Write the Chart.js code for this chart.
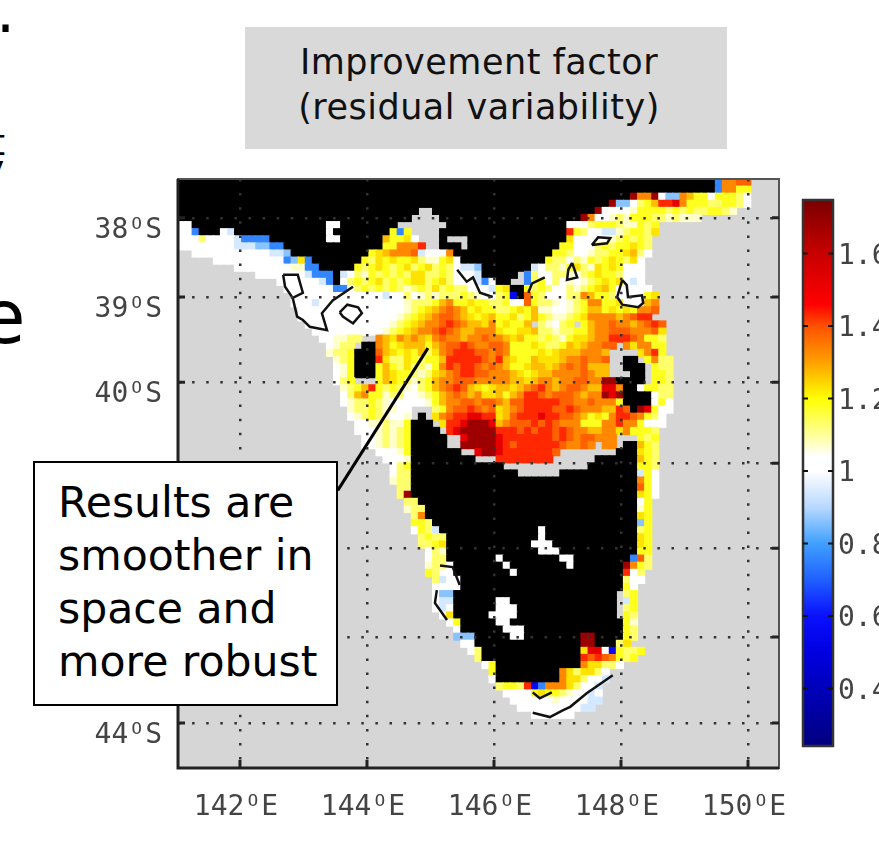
<!DOCTYPE html>
<html>
<head>
<meta charset="utf-8">
<title>Improvement factor</title>
<script src="https://cdn.jsdelivr.net/npm/chart.js@4"></script>
<style>
html, body { margin: 0; padding: 0; width: 879px; height: 846px; overflow: hidden; background: #fff; }
canvas { position: absolute; filter: blur(0.6px); }
#mapChart { left: 0; top: 0; }
#barChart { left: 795px; top: 170px; }
.title { position: absolute; left: 245px; top: 27px; width: 482px; height: 122px; background: #d9d9d9;
  font: 35px/45px "DejaVu Sans"; color: #111; text-align: center; box-sizing: border-box; padding: 13px 14px 0 0; letter-spacing: 0.5px; }
.note { position: absolute; left: 33px; top: 461px; width: 305px; height: 245px; background: #fff; border: 2px solid #000;
  box-sizing: border-box; font: 42.6px/53px "DejaVu Sans"; color: #000; padding: 13px 0 0 23px; white-space: nowrap; }
.cut { position: absolute; font-family: "DejaVu Sans"; color: #000; line-height: 1; }
</style>
</head>
<body>
<span class="cut" style="left:-4px;top:-19px;font-size:60px">.</span>
<span class="cut" style="left:-9px;top:125px;font-size:36px">t</span>
<span class="cut" style="left:-17px;top:151px;font-size:36px">y</span>
<span class="cut" style="left:-20px;top:280px;font-size:74px">e</span>
<canvas id="mapChart" width="879" height="846"></canvas>
<canvas id="barChart" width="130" height="606"></canvas>
<div class="title">Improvement factor<br>(residual variability)</div>
<div class="note">Results are<br>smoother in<br>space and<br>more robust</div>
<script>
// Axis ticks
const lonTicks = [142, 144, 146, 148, 150];
const latTicks = [-38.07, -39, -40, -40.95, -41.95, -42.99, -44];
const barTicks = [0.4, 0.6, 0.8, 1, 1.2, 1.4, 1.6];

// Colour scale
const cmapValues = [0.24, 0.5, 0.6, 0.7, 0.8, 0.9, 1.0, 1.04, 1.1, 1.2, 1.3, 1.4, 1.46, 1.6, 1.75];
const cmapColors = ["#00007f", "#0000e0", "#0a10ff", "#2060ff", "#40a0ff", "#b8d8ff", "#ffffff", "#ffffff", "#ffff99", "#ffff00", "#ffa000", "#ff5000", "#ff0000", "#c80000", "#7a0000"];

// Cell letters and the improvement factor they stand for
const cellCodes = "edcbawpqyYoOrRDK";
const cellValues = [0.55, 0.68, 0.76, 0.86, 0.94, 1.0, 1.07, 1.13, 1.18, 1.23, 1.27, 1.33, 1.38, 1.43, 1.52, 1.68];

// One entry per grid row, top to bottom. "a-b#" fills columns, "n:cells" starts at column n.
// # is land, . is no data
const cellRows = [
"0-75# 76:cOOrr",
"0-75# 76:cOOyy",
"0-63# 64:KOOKwbbOoyywyyyqw",
"0-60# 61:Kbbwqyo 68:RRDOyyyqqyyqw",
"0-58# 34:.. 59:Kwwwwpyyyyqyqyqqyyqp",
"0-56# 33:.... 57:KOwwpqpyyyqqpqppp",
"0:ww 2-54# 21:ww 31:....... 55:wwwqyyyqppyqy",
"0:wwc 3-5# 6:wa 8-54# 21:w 30:ycy 33:.... 55:RyqwwaapqyyqY",
"0:wwwqwwwwacccc 13-28# 21:ww 29:oyyYw 34:... 37-54# 38:... 55:Ywwwwwpqyqyq",
"0:wwwwwwwwaaabbcc 15-28# 29:yyOOOR 35:.. 37-53# 40:. 54:yywwwqyqyyYyq",
"2:wwwwwwwwwwwaab 16-26# 27:yYoOOOrawwwO 39-52# 53:yyqwwpqqyyYoqw",
"5:wwwwwwwwwwcbYc 19-25# 26:yqYyYyyYqppyYw 40-51# 52:yqqwqpyqyYyqYw",
"8:wwwwwwwwppcc 20-24# 25:yqyYyqyYqyYqyqwaab 43-49# 50:awqqpyYqpYyYywww",
"11:wwwwwwwaccc 22-22# 23:awqpyqyqyqYYqqyqwwwa 43-47# 48:. 49:cqwwqqpwqyYyyqwww",
"14:wwwwwwac 22-22# 23:wqyqyYqyqyYYqyYqwwwacw 45-46# 47:.. 49:cqywqwpwpqyYyYwaw",
"15:wwwwwwwccwqyqyqyqpqyqYqyqqwwwayY 47-48# 49:yqyqwwqpqyYoywwwww",
"16:wwwwwwwwwwwwwawwqwpqpqqqyqpwwqy 47:e 48-48# 49:ryqwwwqqOoyyqwwwwyY",
"16:wwwawwwwwwwwwwwwpqqqyoOyyYyyqqywwr 50:yqqpwpqyOOyyYwwwoO",
"17:wwwwwwwwwwwwwwwpqyYoOrOoyYyyqqyYy 50:oppwwpqyooyYyYyOOr",
"17:wwwwwwwwwwwwwwpqyYoOrrOoYyYoyyYqy 50:oyqppqyYOOOOoOrRR",
"18:wwwwwwwwwwwwpqyYoOOrRrOooYOyYyyo.qpwqy.yoOOrOOoOrRr",
"19:wwwwwwwwwwpqyYoOOrRrOooOOOYyyYYoqqpqqyyoOOrrrOOOrY",
"20:wwppqq..OoYOoOoYOrOOoOOrOOoYoyyqyqpyYYoOORRRrOyyq",
"21:wpqq.##OoyYoooyoOrrRrOOrrOyyyYyqqyoYoOOrr.OYOOyy",
"21:pqqy###roYyYyoqYOrRRRrrOrOyyyyYyYoooOOOo....YORy",
"22:pqy###RYqqYyqyyoRRRRRrORoYyyoYYYoOOrOOr..##.yOqq",
"22:wpy###yoyqYqqpyORrRRrOrOoyyYooYoOrOrooo..###.yqq",
"22:wpy###yoYyyqpqYoOrRRrrOOOoYyYooOOOOrOoo...##.yyq",
"22:wqy...yoYyqpqyoOOrrrOOOOOooYoOOoOOrrOOKK####.yyq",
"23:pqyoRyqyqpwqyoOrRroYyYooYoOrROoOrrOooDDO##wyyqq",
"23:wqoOyypqqwwpqyoOrOoOYYoyoORRrOrrrOoOOKDK####wqq",
"23:wpqqyqpwwwwwpyoOOrrOrrOorrRRRRRrrOOrOOOy####wyw",
"24:pqqyqppww...qyOrrRrOrYoOrRRRRrrRrOOOooRr#KDyww",
"24:wpqyqpwwp.#.YOrRRDDRRYorRRRDRRrrOoyYyORRrOyqw",
"25:wwppqppy###.YRRDKKKDoOrrrRrRrOOOyyyOOROOywww",
"25:wwwpqpqy####.RDKKKKKRRRrRrRRrRrOOooOOYOyyyq",
"26:wwpqpqy#####..DKKKKDRRRRRRRrRrOrrOOO...yqy",
"26:wwpqpqy#####..KKKKKDRrRRRRRRrOOrO.OO.##oyq",
"28:wwwpy#######..DKKDRRRRRRRr........###Yyq",
"29:wwwp#########...RRRRRRRR......######oyq",
"30:wqy#############............#######yyq",
"30:wqq###############......###########ayw",
"30:pqq 33-64# 65:Oyw",
"31:qq 33-64# 65:ryw",
"31:qK 33-64# 65:Yyw",
"32:qq 34-64# 65:wy",
"32:pqq 35-64# 65:py",
"33:qO 35-64# 65:Yy",
"33:yyq 36-64# 65:by",
"33:wyqa 37-64# 51:w 65:qy",
"34:qyqq 38-64# 51:w 65:Yy",
"34:qqyY 38-64# 50:www 65:Yy",
"35:wqp 38-64# 51:www 65:yy",
"35:wqq 38-63# 45:w 54:ww 64:crq",
"35:pqqw 39-62# 46:w 55:w 63:KOyq",
"35:yqww 39-62# 47:w 63:Rwq",
"36:qaww 40-62# 63:qww",
"36:wwww 40-62# 63:yw",
"36:wbb 39-61# 63:qy",
"36:waa 39-61# 45:ww 63:ay",
"36:waw 39-61# 45:www 63:qy",
"37:wY 39-61# 44:wwww 63:yq",
"38:wy 40-62# 45:ww 63:yp",
"39:w 40-62# 46:www 63:yq",
"39:bbb 42-62# 47:ww 57:KK 63:yq",
"40:ww 42-56# 57:KK 59-61# 62:qY",
"41:wq 43-56# 57:YDDweyqqy",
"42:q 43-56# 57:RrRrOyqy",
"43:wy 45-56# 57:OYYqqw",
"44:y 45-53# 54:OYqYYqw",
"44:w 45-53# 54:OYYqwwa",
"45:qyyqRecOOOYqwwa",
"46:wwwwyYyyqpwwaw",
"47:wwwwwwpwwwwaa",
"48:wwwwwwwwwaa",
"50:wwwwww"
];
const gridCols = 85;
const gridRows = 83;

// Map extent
const lonMin = 141.024, lonMax = 150.488;
const latMin = -44.528, latMax = -37.615;

// Thin coast contours as [lon, lat]
const contourKing = [[142.68,-38.74],[142.91,-38.74],[142.99,-38.95],[142.83,-39.01],[142.90,-39.23],[142.99,-39.27],[143.10,-39.35],[143.37,-39.39],[143.29,-39.19],[143.46,-39.04],[143.78,-38.88]];
const contourKing2 = [[142.68,-38.74],[142.71,-38.88],[142.83,-39.01]];
const contourLake = [[143.57,-39.18],[143.69,-39.09],[143.86,-39.12],[143.92,-39.19],[143.78,-39.31],[143.62,-39.23],[143.57,-39.18]];
const contourEast = [[148.02,-38.80],[148.09,-38.86],[148.11,-39.00],[148.33,-38.98],[148.35,-39.07],[148.27,-39.12],[148.02,-39.09],[147.94,-39.00],[148.02,-38.80]];
const contourSmall = [[147.23,-38.60],[147.31,-38.77],[147.15,-38.80],[147.17,-38.68],[147.23,-38.60]];
const contourOval = [[147.54,-38.39],[147.64,-38.30],[147.83,-38.31],[147.78,-38.37],[147.54,-38.39]];
const contourCoast = [[145.42,-38.68],[145.57,-38.82],[145.67,-38.77],[145.78,-38.95],[145.98,-39.00]];
const contourBay = [[146.54,-38.95],[146.60,-38.84],[146.80,-38.77]];
const contourWest = [[145.10,-42.44],[145.07,-42.59],[145.26,-42.79]];
const contourWest2 = [[145.15,-42.15],[145.35,-42.17],[145.46,-42.38]];
const contourSouth = [[146.61,-43.88],[146.88,-43.93],[147.09,-43.85],[147.20,-43.81],[147.46,-43.65],[147.87,-43.44]];
const contourSouth2 = [[146.61,-43.64],[146.72,-43.71],[146.91,-43.64]];
const contours = [contourKing, contourKing2, contourLake, contourEast, contourSmall, contourOval, contourCoast, contourBay, contourWest, contourWest2, contourSouth, contourSouth2];

// Leader from the note box to the map
const leader = [[143.54, -41.27], [144.96, -39.60]];

function hexToRgb(h) {
    return [1, 3, 5].map(i => parseInt(h.substr(i, 2), 16));
}

function colorFor(v) {
    let i = 0;
    while (i < cmapValues.length - 2 && v > cmapValues[i + 1]) i++;
    const t = Math.min(1, Math.max(0, (v - cmapValues[i]) / (cmapValues[i + 1] - cmapValues[i])));
    const a = hexToRgb(cmapColors[i]), b = hexToRgb(cmapColors[i + 1]);
    return `rgb(${a.map((c, k) => Math.round(c + (b[k] - c) * t)).join(",")})`;
}

// Turn the rows into points on the map scales
function buildCells() {
    const cells = [];
    const dLon = (lonMax - lonMin) / gridCols, dLat = (latMax - latMin) / gridRows;
    cellRows.forEach((row, r) => {
        const line = {};
        row.split(" ").forEach(tok => {
            const fill = tok.match(/^(\d+)-(\d+)(.)$/);
            if (fill) {
                for (let c = +fill[1]; c <= +fill[2]; c++) line[c] = fill[3];
            } else {
                const at = tok.indexOf(":"), start = +tok.slice(0, at);
                [...tok.slice(at + 1)].forEach((ch, k) => { line[start + k] = ch; });
            }
        });
        Object.keys(line).forEach(c => {
            if (line[c] === ".") return;
            const k = cellCodes.indexOf(line[c]);
            cells.push({
                x: lonMin + (+c + 0.5) * dLon,
                y: latMax - (r + 0.5) * dLat,
                v: k < 0 ? null : cellValues[k]
            });
        });
    });
    return cells;
}

const mapFrame = {
    id: "mapFrame",
    beforeDraw(chart) {
        const { ctx, chartArea: a } = chart;
        ctx.fillStyle = "#d6d6d6";
        ctx.fillRect(a.left, a.top, a.width, a.height);
    },
    afterDraw(chart) {
        const { ctx, chartArea: a, scales } = chart;
        ctx.save();
        ctx.strokeStyle = "#555";
        ctx.lineWidth = 2;
        ctx.strokeRect(a.left, a.top, a.width, a.height);
        ctx.strokeStyle = "#222";
        ctx.lineWidth = 3;
        ctx.beginPath();
        ctx.moveTo(a.left, a.top);
        ctx.lineTo(a.left, a.bottom);
        ctx.lineTo(a.right, a.bottom);
        latTicks.forEach(v => {
            const y = scales.y.getPixelForValue(v);
            ctx.moveTo(a.left, y); ctx.lineTo(a.left + 7, y);
            ctx.moveTo(a.right, y); ctx.lineTo(a.right - 7, y);
        });
        lonTicks.forEach(v => {
            const x = scales.x.getPixelForValue(v);
            ctx.moveTo(x, a.bottom); ctx.lineTo(x, a.bottom - 8);
        });
        ctx.stroke();
        ctx.restore();
    }
};

const barFrame = {
    id: "barFrame",
    afterDraw(chart) {
        const { ctx, chartArea: a, scales } = chart;
        ctx.save();
        ctx.strokeStyle = "#333";
        ctx.lineWidth = 2.5;
        ctx.strokeRect(a.left, a.top, a.width, a.height);
        ctx.strokeStyle = "#111";
        ctx.lineWidth = 2;
        ctx.beginPath();
        barTicks.forEach(v => {
            const y = scales.y.getPixelForValue(v);
            ctx.moveTo(a.left, y); ctx.lineTo(a.left + 5, y);
            ctx.moveTo(a.right, y); ctx.lineTo(a.right - 5, y);
        });
        ctx.stroke();
        ctx.restore();
    }
};

const tickFont = { family: "DejaVu Sans Mono", size: 28 };
const tickColor = "#444";
const dots = { display: false, dash: [2.5, 11.6] };

const lineDatasets = contours.map(c => ({
    type: "scatter",
    data: c.map(p => ({ x: p[0], y: p[1] })),
    showLine: true,
    borderColor: "#111",
    borderWidth: 2.5,
    pointRadius: 0,
    order: 1
}));

new Chart(document.getElementById("mapChart"), {
    type: "scatter",
    data: {
        datasets: [
            {
                data: buildCells(),
                pointStyle: "rect",
                pointRadius: ctx => ctx.chart.chartArea ? ctx.chart.chartArea.height / gridRows * 1.15 / Math.SQRT2 : 5,
                pointBorderWidth: 0,
                pointBackgroundColor: ctx => ctx.raw && ctx.raw.v !== null ? colorFor(ctx.raw.v) : "#000",
                order: 2
            },
            ...lineDatasets,
            {
                data: leader.map(p => ({ x: p[0], y: p[1] })),
                showLine: true,
                borderColor: "#000",
                borderWidth: 3,
                pointRadius: 0,
                order: 0
            }
        ]
    },
    options: {
        responsive: false,
        animation: false,
        events: [],
        layout: { padding: { top: 179, right: 100, left: 0, bottom: 0 } },
        plugins: { legend: { display: false }, tooltip: { enabled: false } },
        scales: {
            x: {
                type: "linear", min: lonMin, max: lonMax,
                afterBuildTicks: s => { s.ticks = lonTicks.map(v => ({ value: v })); },
                afterFit: s => { s.height = 78; },
                grid: { color: "#333", lineWidth: 2.5, drawTicks: false, z: 1 },
                border: dots,
                ticks: {
                    font: tickFont, color: tickColor, padding: 23, labelOffset: -4, maxRotation: 0, autoSkip: false,
                    callback: v => `${v}\u1D3CE`
                }
            },
            y: {
                type: "linear", min: latMin, max: latMax,
                afterBuildTicks: s => { s.ticks = latTicks.map(v => ({ value: v })); },
                afterFit: s => { s.width = 178; },
                grid: { color: "#333", lineWidth: 2.5, drawTicks: false, z: 1 },
                border: dots,
                ticks: {
                    font: tickFont, color: tickColor, padding: 16, labelOffset: 13, autoSkip: false,
                    callback: v => `${Math.round(-v)}\u1D3CS`
                }
            }
        }
    },
    plugins: [mapFrame]
});

// Colour bar
const barLow = 0.241, barHigh = 1.7476;
new Chart(document.getElementById("barChart"), {
    type: "bar",
    data: {
        labels: ["factor"],
        datasets: [{
            data: [[barLow, barHigh]],
            barPercentage: 1,
            categoryPercentage: 1,
            backgroundColor: ctx => {
                const { chart } = ctx;
                if (!chart.chartArea) return "#fff";
                const y = chart.scales.y;
                const g = chart.ctx.createLinearGradient(0, y.getPixelForValue(barLow), 0, y.getPixelForValue(barHigh));
                cmapValues.forEach((v, i) => {
                    g.addColorStop(Math.min(1, Math.max(0, (v - barLow) / (barHigh - barLow))), cmapColors[i]);
                });
                return g;
            }
        }]
    },
    options: {
        responsive: false,
        animation: false,
        events: [],
        layout: { padding: { top: 30, bottom: 30, left: 8, right: 0 } },
        plugins: { legend: { display: false }, tooltip: { enabled: false } },
        scales: {
            x: { display: false },
            y: {
                position: "right",
                min: barLow, max: barHigh,
                afterBuildTicks: s => { s.ticks = barTicks.map(v => ({ value: v })); },
                afterFit: s => { s.width = 92; },
                grid: { display: false, drawTicks: false },
                border: { display: false },
                ticks: {
                    font: tickFont, color: tickColor, padding: 5, labelOffset: 3, autoSkip: false,
                    callback: v => String(v)
                }
            }
        }
    },
    plugins: [barFrame]
});
</script>
</body>
</html>
